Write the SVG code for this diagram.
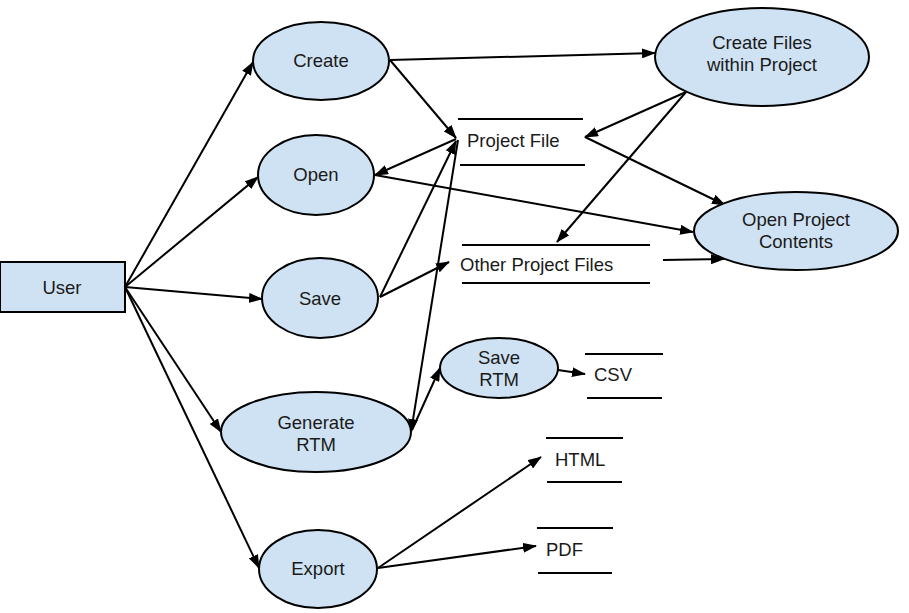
<svg xmlns="http://www.w3.org/2000/svg" width="909" height="613" viewBox="0 0 909 613">
<style>
.n{fill:#cfe2f3;stroke:#000;stroke-width:2}
.t{font-family:"Liberation Sans",Arial,sans-serif;font-size:18.5px;fill:#1a1a1a;text-anchor:middle}
.l{font-family:"Liberation Sans",Arial,sans-serif;font-size:18.5px;fill:#1a1a1a}
.s{stroke:#000;stroke-width:2}
.c{stroke:#000;stroke-width:2;fill:none;marker-end:url(#a)}
</style>
<defs>
<marker id="a" markerUnits="userSpaceOnUse" markerWidth="14" markerHeight="10" refX="13" refY="5" orient="auto">
<path d="M0,0 L14,5 L0,10 Z" fill="#000"/>
</marker>
</defs>
<rect width="909" height="613" fill="#fff"/>
<g id="connectors">
<line class="c" x1="125" y1="287" x2="253" y2="62"/>
<line class="c" x1="125" y1="287" x2="258" y2="177"/>
<line class="c" x1="125" y1="287" x2="262" y2="299"/>
<line class="c" x1="125" y1="287" x2="221" y2="432"/>
<line class="c" x1="125" y1="287" x2="259" y2="568"/>
<line class="c" x1="390" y1="60" x2="655" y2="53"/>
<line class="c" x1="390" y1="60" x2="456" y2="138"/>
<line class="c" x1="456" y1="139" x2="375" y2="175"/>
<line class="c" x1="375" y1="175" x2="693" y2="232"/>
<line class="c" x1="380" y1="297" x2="456" y2="141"/>
<line class="c" x1="380" y1="297" x2="449" y2="262"/>
<line class="c" x1="458" y1="140" x2="411" y2="432"/>
<line class="c" x1="412" y1="430" x2="440" y2="368"/>
<line class="c" x1="558" y1="370" x2="585" y2="374"/>
<line class="c" x1="378" y1="568" x2="541" y2="457"/>
<line class="c" x1="378" y1="568" x2="536" y2="546"/>
<line class="c" x1="686" y1="92" x2="585" y2="137"/>
<line class="c" x1="686" y1="92" x2="557" y2="242"/>
<line class="c" x1="585" y1="137" x2="725" y2="205"/>
<line class="c" x1="663" y1="260" x2="724" y2="259"/>
</g>
<g id="user"><rect class="n" x="0" y="262" width="125" height="50"/><text class="t" x="62" y="294">User</text></g>
<g id="create"><ellipse class="n" cx="321" cy="61" rx="68" ry="39"/><text class="t" x="321" y="67">Create</text></g>
<g id="open"><ellipse class="n" cx="316" cy="175" rx="58" ry="40"/><text class="t" x="316" y="181">Open</text></g>
<g id="save"><ellipse class="n" cx="320" cy="298" rx="58" ry="40"/><text class="t" x="320" y="305">Save</text></g>
<g id="generate-rtm"><ellipse class="n" cx="316" cy="432" rx="95" ry="40"/><text class="t" x="316" y="429">Generate</text><text class="t" x="316" y="451">RTM</text></g>
<g id="export"><ellipse class="n" cx="318" cy="569" rx="59" ry="39"/><text class="t" x="318" y="575">Export</text></g>
<g id="create-files"><ellipse class="n" cx="762" cy="57" rx="107" ry="49"/><text class="t" x="762" y="49">Create Files</text><text class="t" x="762" y="71">within Project</text></g>
<g id="open-project-contents"><ellipse class="n" cx="796" cy="231" rx="102" ry="39"/><text class="t" x="796" y="226">Open Project</text><text class="t" x="796" y="248">Contents</text></g>
<g id="save-rtm"><ellipse class="n" cx="499" cy="368" rx="59" ry="30"/><text class="t" x="499" y="364">Save</text><text class="t" x="499" y="386">RTM</text></g>
<g id="project-file"><line class="s" x1="458" y1="119" x2="583" y2="119"/><line class="s" x1="460" y1="165" x2="585" y2="165"/><text class="l" x="467" y="147">Project File</text></g>
<g id="other-project-files"><line class="s" x1="462" y1="245" x2="650" y2="245"/><line class="s" x1="462" y1="283" x2="650" y2="283"/><text class="l" x="460" y="271">Other Project Files</text></g>
<g id="csv"><line class="s" x1="585" y1="354" x2="663" y2="354"/><line class="s" x1="587" y1="398" x2="662" y2="398"/><text class="l" x="594" y="381">CSV</text></g>
<g id="html"><line class="s" x1="546" y1="438" x2="623" y2="438"/><line class="s" x1="547" y1="482" x2="622" y2="482"/><text class="l" x="555" y="466">HTML</text></g>
<g id="pdf"><line class="s" x1="537" y1="528" x2="613" y2="528"/><line class="s" x1="538" y1="573" x2="612" y2="573"/><text class="l" x="546" y="556">PDF</text></g>
</svg>
